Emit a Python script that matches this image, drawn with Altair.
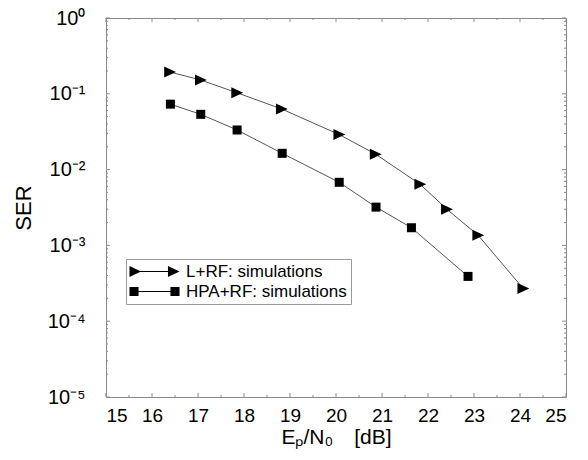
import altair as alt
import pandas as pd

series_names = ["L+RF: simulations", "HPA+RF: simulations"]
lrf_snr = [16.39, 17.06, 17.85, 18.82, 20.07, 20.86, 21.83, 22.41, 23.09, 24.07]
lrf_ser = [0.194, 0.152, 0.103, 0.063, 0.029, 0.016, 0.0064, 0.0030, 0.00136, 0.00027]
hpa_snr = [16.40, 17.06, 17.85, 18.83, 20.07, 20.87, 21.64, 22.87]
hpa_ser = [0.073, 0.0536, 0.0333, 0.0164, 0.0068, 0.0032, 0.00171, 0.00039]

x_major = [15, 16, 17, 18, 19, 20, 21, 22, 23, 24, 25]
x_minor = [15.5, 16.5, 17.5, 18.5, 19.5, 20.5, 21.5, 22.5, 23.5, 24.5]
y_major = [1e-5, 1e-4, 1e-3, 1e-2, 1e-1, 1.0]
y_minor = [m * d for d in [1e-5, 1e-4, 1e-3, 1e-2, 1e-1] for m in [2, 3, 4, 5, 6, 7, 8, 9]]

rows = []
for x, y in zip(lrf_snr, lrf_ser):
    rows.append({"snr": x, "ser": y, "series": series_names[0]})
for x, y in zip(hpa_snr, hpa_ser):
    rows.append({"snr": x, "ser": y, "series": series_names[1]})
df = pd.DataFrame(rows)
df_lrf = df[df["series"] == series_names[0]]
df_hpa = df[df["series"] == series_names[1]]

W, H = 460, 379
FONT = "Liberation Sans"
TICK = "#8a8a8a"

TRI = "M-1.05,-1L1.1,0L-1.05,1Z"
LEG_TRI = ("M-4.55,-1L-2.45,0L-4.55,1Z M-2.6,-0.09L2.5,-0.09L2.5,0.09L-2.6,0.09Z "
           "M2.45,-1L4.55,0L2.45,1Z")
LEG_SQ = ("M-4.55,-0.82L-2.9,-0.82L-2.9,0.82L-4.55,0.82Z M-2.9,-0.09L2.9,-0.09L2.9,0.09L-2.9,0.09Z "
          "M2.9,-0.82L4.55,-0.82L4.55,0.82L2.9,0.82Z")

xscale = alt.Scale(domain=[15, 25], nice=False, zero=False)
yscale = alt.Scale(type="log", domain=[1e-5, 1], nice=False)

ylabel_expr = ("datum.value >= 0.5 ? '10⁰' : datum.value >= 0.05 ? '10⁻¹' : "
               "datum.value >= 0.005 ? '10⁻²' : datum.value >= 0.0005 ? '10⁻³' : "
               "datum.value >= 0.00005 ? '10⁻⁴' : '10⁻⁵'")

xaxis = alt.Axis(values=x_major, ticks=False, tickSize=0, domain=False, grid=False,
                 labelFont=FONT, labelFontSize=19, labelColor="black", labelPadding=9,
                 title="Eₚ/N₀\u2002\u2002[dB]", titleFont=FONT, titleFontSize=21,
                 titleFontWeight="normal", titleColor="black", titlePadding=1)
yaxis = alt.Axis(values=y_major, labelExpr=ylabel_expr, ticks=False, tickSize=0,
                 domain=False, grid=False, labelFont=FONT, labelFontSize=20,
                 labelColor="black", labelPadding=21, title="SER", titleFont=FONT,
                 titleFontSize=22, titleFontWeight="normal", titleColor="black",
                 titlePadding=12)

X = alt.X("snr:Q", scale=xscale, axis=xaxis)
Y = alt.Y("ser:Q", scale=yscale, axis=yaxis)

base = alt.Chart(df)
lines = base.mark_line(color="#555555", strokeWidth=1).encode(
    x=X, y=Y, detail="series:N",
)

legend = alt.Legend(
    title=None, orient="none", legendX=20, legendY=241,
    symbolSize=121, symbolOffset=16, labelOffset=23, labelLimit=400,
    labelFont=FONT, labelFontSize=17, labelColor="black",
    padding=4, strokeColor="#999999", fillColor="white",
    symbolFillColor="black", symbolStrokeWidth=0, symbolOpacity=1, rowPadding=2,
)

legend_layer = base.mark_point(filled=True, opacity=0, color="black", strokeWidth=0).encode(
    x=X, y=Y,
    shape=alt.Shape("series:N", scale=alt.Scale(domain=series_names, range=[LEG_TRI, LEG_SQ]),
                    legend=legend),
)

tri_points = alt.Chart(df_lrf).mark_point(
    filled=True, opacity=1, color="black", strokeWidth=0, shape=TRI, size=121
).encode(x=X, y=Y)

sq_points = alt.Chart(df_hpa).mark_point(
    filled=True, opacity=1, color="black", strokeWidth=0, shape="square", size=81
).encode(x=X, y=Y)

xmaj = pd.DataFrame({"v": x_major})
xmin = pd.DataFrame({"v": x_minor})
ymaj = pd.DataFrame({"v": y_major})
ymin = pd.DataFrame({"v": y_minor})


def xticks(d, y0, y1):
    return alt.Chart(d).mark_rule(color=TICK, strokeWidth=1).encode(
        x=alt.X("v:Q", scale=xscale, axis=xaxis), y=alt.value(y0), y2=alt.value(y1))


def yticks(d, x0, x1):
    return alt.Chart(d).mark_rule(color=TICK, strokeWidth=1).encode(
        y=alt.Y("v:Q", scale=yscale, axis=yaxis), x=alt.value(x0), x2=alt.value(x1))


ticks = [
    xticks(xmaj, H, H - 4), xticks(xmin, H, H - 2),
    xticks(xmaj, 0, 4), xticks(xmin, 0, 2),
    yticks(ymaj, 0, 4), yticks(ymin, 0, 2),
    yticks(ymaj, W, W - 4), yticks(ymin, W, W - 2),
]

chart = alt.layer(lines, *ticks, tri_points, sq_points, legend_layer).properties(
    width=W, height=H,
    autosize=alt.AutoSizeParams(type="none"),
    padding={"left": 106, "top": 18, "right": 22, "bottom": 63},
    background="white",
).configure_view(stroke="#8a8a8a", strokeWidth=1)

chart.save("out.html", embed_options={"renderer": "svg", "actions": False})
